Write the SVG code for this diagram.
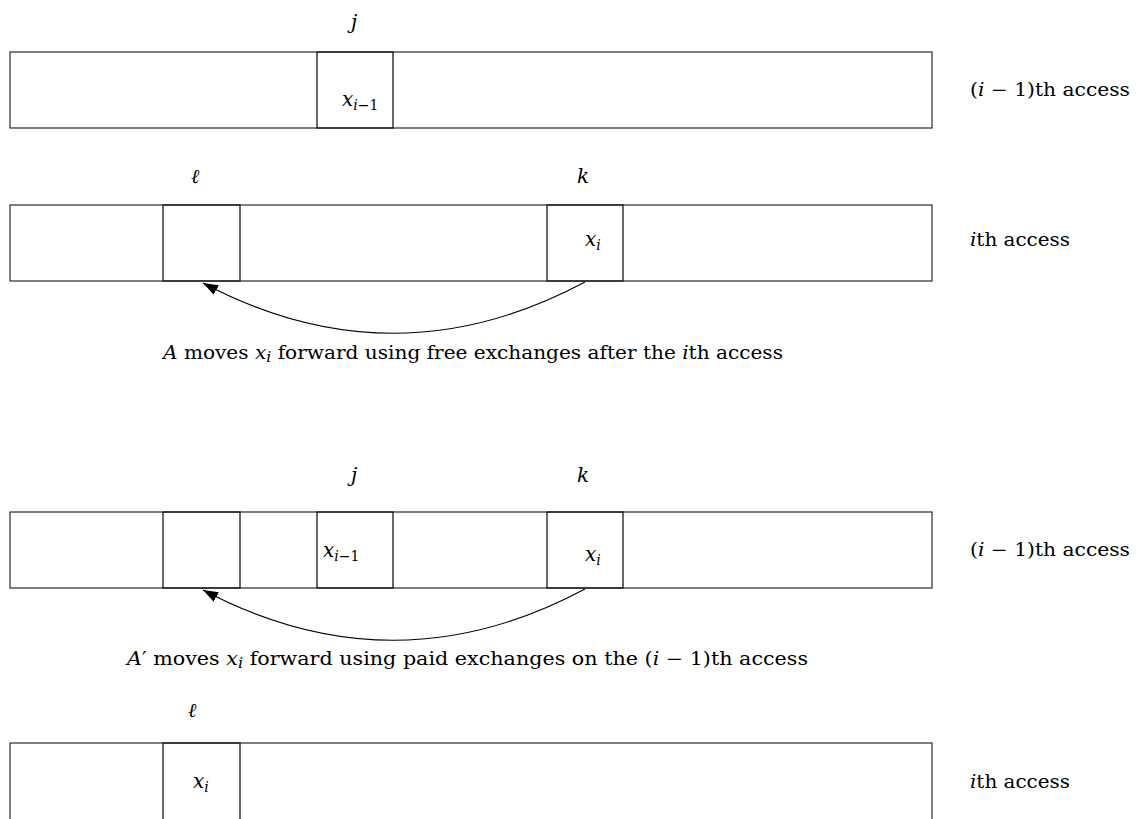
<svg xmlns="http://www.w3.org/2000/svg" width="1139" height="819" viewBox="0 0 1139 819">
  <style>
    .box { fill: #ffffff; stroke: #2a2a2a; stroke-width: 1.2; }
    .cell { fill: none; stroke: #1a1a1a; stroke-width: 1.3; }
    .lbl { font-family: 'DejaVu Serif', 'Liberation Serif', 'Noto Serif', serif; font-size: 18px; fill: #000; }
    .m { font-style: italic; }
    .big { font-size: 20px; }
    .sub { font-size: 14px; }
    .move { fill: none; stroke: #000; stroke-width: 1.1; }
  </style>
  <defs>
    <marker id="head" markerUnits="userSpaceOnUse" markerWidth="16" markerHeight="12" viewBox="0 -6 16 12" refX="15" refY="0" orient="auto">
      <path d="M0,-5.5 L15,0 L0,5.5 Z" fill="#000"/>
    </marker>
  </defs>

  <rect width="1139" height="819" fill="#ffffff"/>

  <!-- list before the (i-1)th access -->
  <g id="list1">
    <rect class="box" x="10" y="52" width="922" height="76"/>
    <rect class="cell" x="317" y="52" width="76" height="76"/>
    <text class="lbl m big" x="351" y="29">j</text>
    <text class="lbl big" x="342" y="106"><tspan class="m">x</tspan><tspan class="sub" dy="4"><tspan class="m">i</tspan>−1</tspan></text>
    <text class="lbl" x="970" y="96" textLength="160" lengthAdjust="spacingAndGlyphs">(<tspan class="m">i</tspan> − 1)th access</text>
  </g>

  <!-- list at the ith access -->
  <g id="list2">
    <rect class="box" x="10" y="205" width="922" height="76"/>
    <rect class="cell" x="163" y="205" width="77" height="76"/>
    <rect class="cell" x="547" y="205" width="76" height="76"/>
    <text class="lbl m big" x="191" y="183">ℓ</text>
    <text class="lbl m big" x="577" y="183">k</text>
    <text class="lbl big" x="585" y="246"><tspan class="m">x</tspan><tspan class="sub m" dy="4">i</tspan></text>
    <text class="lbl" x="970" y="246" textLength="100" lengthAdjust="spacingAndGlyphs"><tspan class="m">i</tspan>th access</text>
  </g>

  <!-- list A' keeps at the (i-1)th access -->
  <g id="list3">
    <rect class="box" x="10" y="512" width="922" height="76"/>
    <rect class="cell" x="163" y="512" width="77" height="76"/>
    <rect class="cell" x="317" y="512" width="76" height="76"/>
    <rect class="cell" x="547" y="512" width="76" height="76"/>
    <text class="lbl m big" x="351" y="482">j</text>
    <text class="lbl m big" x="577" y="482">k</text>
    <text class="lbl big" x="323" y="557"><tspan class="m">x</tspan><tspan class="sub" dy="4"><tspan class="m">i</tspan>−1</tspan></text>
    <text class="lbl big" x="585" y="561"><tspan class="m">x</tspan><tspan class="sub m" dy="4">i</tspan></text>
    <text class="lbl" x="970" y="556" textLength="160" lengthAdjust="spacingAndGlyphs">(<tspan class="m">i</tspan> − 1)th access</text>
  </g>

  <!-- list A' keeps at the ith access -->
  <g id="list4">
    <rect class="box" x="10" y="743" width="922" height="90"/>
    <rect class="cell" x="163" y="743" width="77" height="90"/>
    <text class="lbl m big" x="188" y="717">ℓ</text>
    <text class="lbl big" x="193" y="788"><tspan class="m">x</tspan><tspan class="sub m" dy="4">i</tspan></text>
    <text class="lbl" x="970" y="788" textLength="100" lengthAdjust="spacingAndGlyphs"><tspan class="m">i</tspan>th access</text>
  </g>

  <!-- captions -->
  <g id="captions">
    <text class="lbl" x="163" y="359" textLength="620" lengthAdjust="spacingAndGlyphs"><tspan class="m">A</tspan> moves <tspan class="m">x</tspan><tspan class="sub m" dy="3">i</tspan><tspan dy="-3"> forward using free exchanges after the </tspan><tspan class="m">i</tspan>th access</text>
    <text class="lbl" x="127" y="665" textLength="681" lengthAdjust="spacingAndGlyphs"><tspan class="m">A</tspan>′ moves <tspan class="m">x</tspan><tspan class="sub m" dy="3">i</tspan><tspan dy="-3"> forward using paid exchanges on the (</tspan><tspan class="m">i</tspan> − 1)th access</text>
  </g>

  <!-- connectors -->
  <g id="connectors">
    <path class="move" d="M585,282 Q394,384 203,283" marker-end="url(#head)"/>
    <path class="move" d="M585,589 Q394,691 203,590" marker-end="url(#head)"/>
  </g>
</svg>
